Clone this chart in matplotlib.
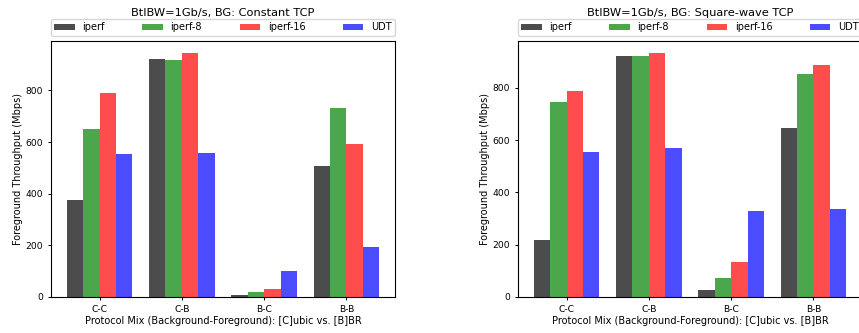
import matplotlib
matplotlib.use("Agg")
import matplotlib.pyplot as plt
import numpy as np

# ---------------------------------------------------------------------------
# Données
# ---------------------------------------------------------------------------

categories = ["C-C", "C-B", "B-C", "B-B"]
series     = ["iperf", "iperf-8", "iperf-16", "UDT"]
couleurs   = ["k", "g", "r", "b"]

const_tcp = {
    "iperf":    [375, 922, 8, 506],
    "iperf-8":  [649, 916, 19, 730],
    "iperf-16": [791, 944, 31, 591],
    "UDT":      [553, 556, 102, 192],
}

square_tcp = {
    "iperf":    [220, 924, 27, 646],
    "iperf-8":  [745, 921, 73, 852],
    "iperf-16": [790, 933, 134, 888],
    "UDT":      [554, 569, 329, 338],
}

titres = ["BtlBW=1Gb/s, BG: Constant TCP", "BtlBW=1Gb/s, BG: Square-wave TCP"]

FS_TICK  = 6.6
FS_LABEL = 7.0
FS_TITLE = 8.2

# ---------------------------------------------------------------------------
# Tracé
# ---------------------------------------------------------------------------

fig = plt.figure(figsize=(8.59, 3.33), dpi=100)
W, H = 859, 333

def add_axes(x0, x1, y0, y1):
    return fig.add_axes([x0 / W, 1 - y1 / H, (x1 - x0) / W, (y1 - y0) / H])

axes = [add_axes(51, 395, 41, 297), add_axes(518, 862, 41, 297)]

largeur = 0.2
x = np.arange(len(categories))

for ax, data, titre in zip(axes, [const_tcp, square_tcp], titres):
    for i, (nom, c) in enumerate(zip(series, couleurs)):
        ax.bar(x + (i - 1.5) * largeur, data[nom], largeur,
               color=c, alpha=0.7, label=nom)
    ax.set_xticks(x)
    ax.set_xticklabels(categories, fontsize=FS_TICK)
    ax.set_yticks([0, 200, 400, 600, 800])
    ax.tick_params(axis="y", labelsize=FS_TICK)
    ax.tick_params(length=2.5, width=0.7, pad=3)
    for s in ax.spines.values():
        s.set_linewidth(0.8)
    ax.set_xlabel("Protocol Mix (Background-Foreground): [C]ubic vs. [B]BR",
                  fontsize=FS_LABEL, labelpad=2)
    ax.set_ylabel("Foreground Throughput (Mbps)", fontsize=FS_LABEL, labelpad=2)
    ax.legend(bbox_to_anchor=(0, 1.02, 1, 0.102), loc="lower left",
              ncol=4, mode="expand", borderaxespad=0, fontsize=FS_LABEL,
              handlelength=2.1, handleheight=0.6, borderpad=0.35)
    ax.set_title(titre, fontsize=FS_TITLE, pad=18)

fig.savefig("out.png", dpi=100)
